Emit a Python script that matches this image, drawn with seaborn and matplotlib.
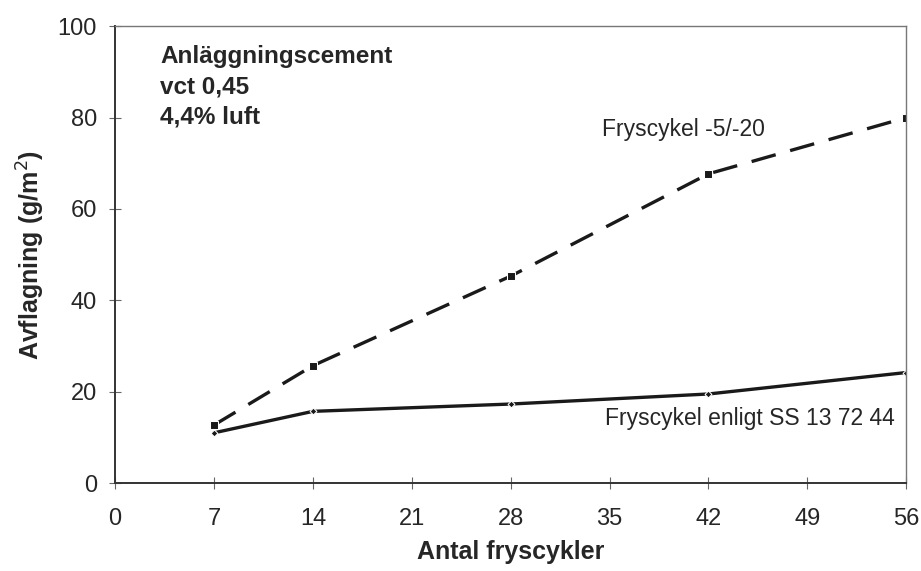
import matplotlib
matplotlib.use('Agg')
import matplotlib.pyplot as plt
import seaborn as sb
import pandas as pd

# data
cycles = [7, 14, 28, 42, 56]
scaling_5_20 = [12.7, 25.7, 45.3, 67.7, 80.0]
scaling_ss = [11.0, 15.7, 17.3, 19.5, 24.2]
xticks = [0, 7, 14, 21, 28, 35, 42, 49, 56]
yticks = [0, 20, 40, 60, 80, 100]

sb.set_style("white")
plt.rcParams['font.family'] = ['Liberation Sans', 'DejaVu Sans']

df = pd.DataFrame({'cykler': cycles, 'a': scaling_5_20, 'b': scaling_ss})

fig = plt.figure(figsize=(9.21, 5.71), dpi=100)
ax = fig.add_axes([0.125, 0.154, 0.859, 0.8])

sb.lineplot(data=df, x='cykler', y='a', ax=ax, color='#1a1a1a', lw=2.4,
            marker='s', markersize=5.5)
ax.lines[-1].set_dashes([7.5, 4.5])
sb.lineplot(data=df, x='cykler', y='b', ax=ax, color='#1a1a1a', lw=2.4,
            marker='D', markersize=3.5)

ax.set_xlim(0, 56)
ax.set_ylim(0, 100)
ax.set_xticks(xticks)
ax.set_yticks(yticks)
ax.tick_params(bottom=True, left=True, direction='inout', length=8, width=0.8,
               labelsize=17, color='#666666')
ax.tick_params(axis='x', pad=14)
ax.tick_params(axis='y', pad=9)
for side in ['left', 'bottom']:
    ax.spines[side].set_color('#333333')
    ax.spines[side].set_linewidth(1.4)
for side in ['top', 'right']:
    ax.spines[side].set_color('#777777')
    ax.spines[side].set_linewidth(1.0)

ax.set_xlabel('Antal fryscykler', fontsize=18, fontweight='bold', labelpad=7)
ax.set_ylabel('Avflagning (g/m$^2$)', fontsize=18, fontweight='bold', labelpad=8)

ax.text(0.057, 0.96, 'Anläggningscement\nvct 0,45\n4,4% luft',
        transform=ax.transAxes, fontsize=17.5, fontweight='bold',
        va='top', ha='left', linespacing=1.42)
ax.text(40.2, 77.3, 'Fryscykel -5/-20', fontsize=16.5, va='center', ha='center')
ax.text(55.2, 14.2, 'Fryscykel enligt SS 13 72 44', fontsize=16.5,
        va='center', ha='right')

fig.savefig('out.png', dpi=100)
